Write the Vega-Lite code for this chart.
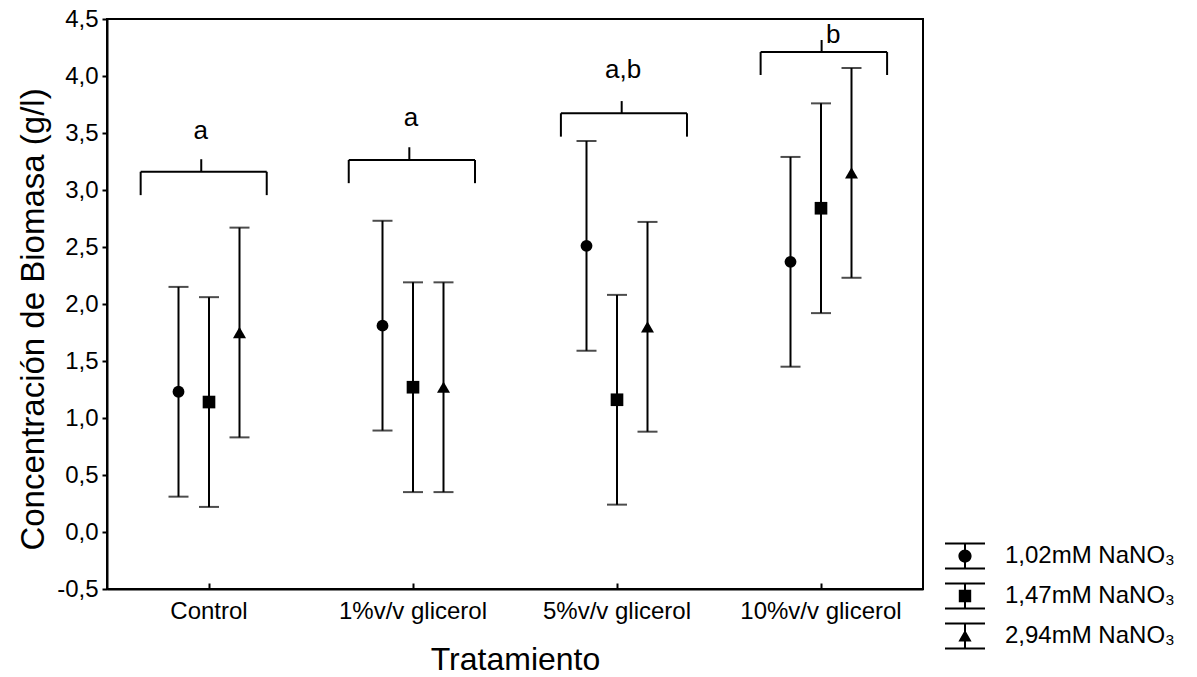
{
  "$schema": "https://vega.github.io/schema/vega-lite/v6.json",
  "autosize": {"type": "none"},
  "width": 816,
  "height": 570,
  "padding": {"left": 107, "top": 19, "right": 274, "bottom": 88},
  "background": "white",
  "config": {
    "view": {"stroke": "black", "strokeWidth": 2},
    "font": "Liberation Sans, Arial, sans-serif",
    "axis": {
      "grid": false,
      "domainColor": "black",
      "domainWidth": 2,
      "tickColor": "black",
      "tickWidth": 2,
      "labelColor": "black",
      "titleColor": "black",
      "labelFont": "Liberation Sans, Arial, sans-serif",
      "titleFont": "Liberation Sans, Arial, sans-serif",
      "labelFontSize": 24,
      "titleFontSize": 32,
      "titleFontWeight": "normal"
    },
    "legend": {
      "labelFont": "Liberation Sans, Arial, sans-serif",
      "labelFontSize": 24,
      "labelColor": "black"
    }
  },
  "datasets": {
    "medias": [
      {"Tratamiento": "Control", "Serie": "1,02mM NaNO₃", "media": 1.23, "lo": 0.31, "hi": 2.15},
      {"Tratamiento": "Control", "Serie": "1,47mM NaNO₃", "media": 1.14, "lo": 0.22, "hi": 2.06},
      {"Tratamiento": "Control", "Serie": "2,94mM NaNO₃", "media": 1.75, "lo": 0.83, "hi": 2.67},
      {"Tratamiento": "1%v/v glicerol", "Serie": "1,02mM NaNO₃", "media": 1.81, "lo": 0.89, "hi": 2.73},
      {"Tratamiento": "1%v/v glicerol", "Serie": "1,47mM NaNO₃", "media": 1.27, "lo": 0.35, "hi": 2.19},
      {"Tratamiento": "1%v/v glicerol", "Serie": "2,94mM NaNO₃", "media": 1.27, "lo": 0.35, "hi": 2.19},
      {"Tratamiento": "5%v/v glicerol", "Serie": "1,02mM NaNO₃", "media": 2.51, "lo": 1.59, "hi": 3.43},
      {"Tratamiento": "5%v/v glicerol", "Serie": "1,47mM NaNO₃", "media": 1.16, "lo": 0.24, "hi": 2.08},
      {"Tratamiento": "5%v/v glicerol", "Serie": "2,94mM NaNO₃", "media": 1.8, "lo": 0.88, "hi": 2.72},
      {"Tratamiento": "10%v/v glicerol", "Serie": "1,02mM NaNO₃", "media": 2.37, "lo": 1.45, "hi": 3.29},
      {"Tratamiento": "10%v/v glicerol", "Serie": "1,47mM NaNO₃", "media": 2.84, "lo": 1.92, "hi": 3.76},
      {"Tratamiento": "10%v/v glicerol", "Serie": "2,94mM NaNO₃", "media": 3.15, "lo": 2.23, "hi": 4.07}
    ],
    "grupos": [
      {"grupo": "Control", "left": 0.665, "right": 1.283, "mid": 0.962, "yBar": 3.16, "yLeg": 2.955, "yTop": 3.27, "letra": "a", "lx": 0.96, "ly": 3.45},
      {"grupo": "1%v/v glicerol", "left": 1.685, "right": 2.304, "mid": 1.982, "yBar": 3.263, "yLeg": 3.06, "yTop": 3.375, "letra": "a", "lx": 1.99, "ly": 3.56},
      {"grupo": "5%v/v glicerol", "left": 2.725, "right": 3.343, "mid": 3.023, "yBar": 3.673, "yLeg": 3.468, "yTop": 3.78, "letra": "a,b", "lx": 3.03, "ly": 3.98},
      {"grupo": "10%v/v glicerol", "left": 3.704, "right": 4.324, "mid": 4.003, "yBar": 4.21, "yLeg": 4.009, "yTop": 4.316, "letra": "b", "lx": 4.06, "ly": 4.29}
    ]
  },
  "resolve": {"scale": {"x": "independent"}},
  "layer": [
    {
      "data": {"name": "grupos"},
      "encoding": {
        "y": {"type": "quantitative", "scale": {"domain": [-0.5, 4.5], "nice": false, "zero": false}}
      },
      "layer": [
        {
          "mark": {"type": "rule", "color": "black", "strokeWidth": 2},
          "encoding": {
            "x": {"field": "left", "type": "quantitative", "scale": {"domain": [0.5, 4.5], "nice": false, "zero": false}, "axis": null},
            "x2": {"field": "right"},
            "y": {"field": "yBar", "type": "quantitative"}
          }
        },
        {
          "mark": {"type": "rule", "color": "black", "strokeWidth": 2},
          "encoding": {
            "x": {"field": "left", "type": "quantitative"},
            "y": {"field": "yLeg", "type": "quantitative"},
            "y2": {"field": "yBar"}
          }
        },
        {
          "mark": {"type": "rule", "color": "black", "strokeWidth": 2},
          "encoding": {
            "x": {"field": "right", "type": "quantitative"},
            "y": {"field": "yLeg", "type": "quantitative"},
            "y2": {"field": "yBar"}
          }
        },
        {
          "mark": {"type": "rule", "color": "black", "strokeWidth": 2},
          "encoding": {
            "x": {"field": "mid", "type": "quantitative"},
            "y": {"field": "yBar", "type": "quantitative"},
            "y2": {"field": "yTop"}
          }
        },
        {
          "mark": {"type": "text", "color": "black", "fontSize": 26, "baseline": "alphabetic", "align": "center", "font": "Liberation Sans, Arial, sans-serif"},
          "encoding": {
            "x": {"field": "lx", "type": "quantitative"},
            "y": {"field": "ly", "type": "quantitative"},
            "text": {"field": "letra"}
          }
        }
      ]
    },
    {
      "data": {"name": "medias"},
      "encoding": {
        "x": {
          "field": "Tratamiento",
          "type": "nominal",
          "sort": ["Control", "1%v/v glicerol", "5%v/v glicerol", "10%v/v glicerol"],
          "scale": {"paddingInner": 0, "paddingOuter": 0},
          "axis": {"orient": "bottom", "title": "Tratamiento", "labelAngle": 0, "tickSize": -6, "labelPadding": 16, "titlePadding": 21, "domain": true}
        },
        "xOffset": {
          "field": "Serie",
          "type": "nominal",
          "sort": ["1,02mM NaNO₃", "1,47mM NaNO₃", "2,94mM NaNO₃"],
          "scale": {"range": [56.25, 147.75], "paddingInner": 0, "paddingOuter": 0}
        }
      },
      "layer": [
        {
          "mark": {"type": "rule", "color": "black", "strokeWidth": 2},
          "encoding": {
            "y": {
              "field": "lo",
              "type": "quantitative",
              "scale": {"domain": [-0.5, 4.5], "nice": false, "zero": false},
              "axis": {
                "title": "Concentración de Biomasa (g/l)",
                "values": [-0.5, 0, 0.5, 1, 1.5, 2, 2.5, 3, 3.5, 4, 4.5],
                "labelExpr": "replace(replace(format(datum.value, '.1f'), '.', ','), '−', '-')",
                "tickSize": 5,
                "labelPadding": 4,
                "titlePadding": 6,
                "titleFontSize": 33,
                "titleY": 300
              }
            },
            "y2": {"field": "hi"}
          }
        },
        {
          "mark": {"type": "tick", "orient": "horizontal", "color": "black", "size": 20, "thickness": 2},
          "encoding": {"y": {"field": "lo", "type": "quantitative"}}
        },
        {
          "mark": {"type": "tick", "orient": "horizontal", "color": "black", "size": 20, "thickness": 2},
          "encoding": {"y": {"field": "hi", "type": "quantitative"}}
        },
        {
          "transform": [{"filter": "datum.Serie === '1,02mM NaNO₃'"}],
          "mark": {"type": "point", "filled": true, "color": "black", "opacity": 1, "size": 140, "shape": "circle"},
          "encoding": {"y": {"field": "media", "type": "quantitative"}}
        },
        {
          "transform": [{"filter": "datum.Serie === '1,47mM NaNO₃'"}],
          "mark": {"type": "point", "filled": true, "color": "black", "opacity": 1, "size": 160, "shape": "square"},
          "encoding": {"y": {"field": "media", "type": "quantitative"}}
        },
        {
          "transform": [{"filter": "datum.Serie === '2,94mM NaNO₃'"}],
          "mark": {"type": "point", "filled": true, "color": "black", "opacity": 1, "size": 169, "shape": "triangle-up"},
          "encoding": {"y": {"field": "media", "type": "quantitative"}}
        },
        {
          "mark": {"type": "point", "filled": true, "color": "black", "opacity": 0, "size": 1600},
          "encoding": {
            "y": {"field": "media", "type": "quantitative"},
            "shape": {
              "field": "Serie",
              "type": "nominal",
              "sort": ["1,02mM NaNO₃", "1,47mM NaNO₃", "2,94mM NaNO₃"],
              "scale": {"range": [
                "M-1,-0.675L1,-0.675L1,-0.575L-1,-0.575ZM-1,0.575L1,0.575L1,0.675L-1,0.675ZM-0.05,-0.625L0.05,-0.625L0.05,0.625L-0.05,0.625ZM0.33,0A0.33,0.33,0,1,1,-0.33,0A0.33,0.33,0,1,1,0.33,0Z",
                "M-1,-0.675L1,-0.675L1,-0.575L-1,-0.575ZM-1,0.575L1,0.575L1,0.675L-1,0.675ZM-0.05,-0.625L0.05,-0.625L0.05,0.625L-0.05,0.625ZM-0.31,-0.31L0.31,-0.31L0.31,0.31L-0.31,0.31Z",
                "M-1,-0.675L1,-0.675L1,-0.575L-1,-0.575ZM-1,0.575L1,0.575L1,0.675L-1,0.675ZM-0.05,-0.625L0.05,-0.625L0.05,0.625L-0.05,0.625ZM0,-0.3L0.33,0.28L-0.33,0.28Z"
              ]},
              "legend": {
                "title": null,
                "orient": "none",
                "legendX": 838,
                "legendY": 517,
                "padding": 0,
                "symbolSize": 1600,
                "symbolOpacity": 1,
                "symbolFillColor": "black",
                "symbolStrokeWidth": 0,
                "labelOffset": 20,
                "labelLimit": 0,
                "rowPadding": 6,
                "labelFontSize": 24
              }
            }
          }
        }
      ]
    }
  ]
}
